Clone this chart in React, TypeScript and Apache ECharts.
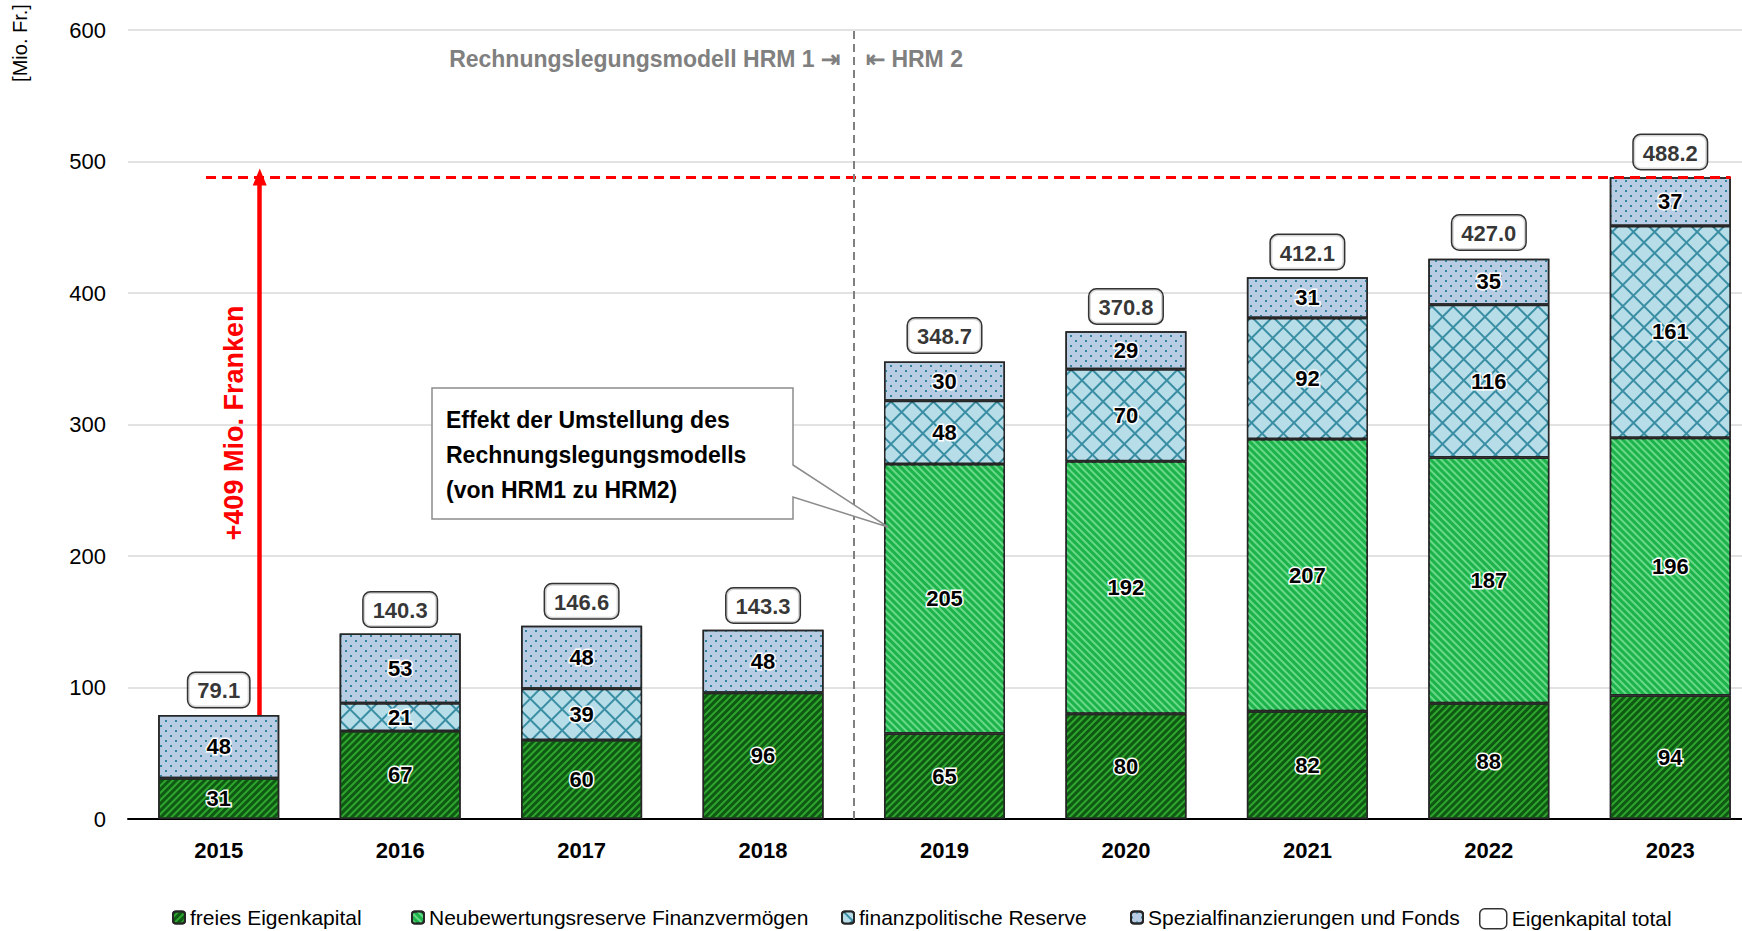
import React, { useEffect, useRef } from "react";
import * as echarts from "echarts";

const years = ["2015", "2016", "2017", "2018", "2019", "2020", "2021", "2022", "2023"];
const freiesEigenkapital = [31, 67, 60, 96, 65, 80, 82, 88, 94];
const neubewertungsreserve = [null, null, null, null, 205, 192, 207, 187, 196];
const finanzpolitischeReserve = [null, 21, 39, null, 48, 70, 92, 116, 161];
const spezialfinanzierungen = [48, 53, 48, 48, 30, 29, 31, 35, 37];
const eigenkapitalTotal = [79.1, 140.3, 146.6, 143.3, 348.7, 370.8, 412.1, 427.0, 488.2];

const seriesNames = [
  "freies Eigenkapital",
  "Neubewertungsreserve Finanzvermögen",
  "finanzpolitische Reserve",
  "Spezialfinanzierungen und Fonds",
];
const totalName = "Eigenkapital total";
const yAxisName = "[Mio. Fr.]";
const hrm1Label = "Rechnungslegungsmodell HRM 1 ⇥";
const hrm2Label = "⇤ HRM 2";
const increaseLabel = "+409 Mio. Franken";
const calloutLines = ["Effekt der Umstellung des", "Rechnungslegungsmodells", "(von HRM1 zu HRM2)"];
const increaseFrom = 79.1;
const increaseTo = 488.2;
const modelSwitchBoundary = 4; // between 2018 and 2019 (band units)

const FONT = "'Liberation Sans Narrow', 'Arial Narrow', 'Liberation Sans', Arial, sans-serif";
const legendLefts = [167, 406, 836, 1125];

export default function App() {
  const ref = useRef<HTMLDivElement>(null);
  useEffect(() => {
    document.body.style.margin = "0";
    const chart = echarts.init(ref.current!, null, { renderer: "svg" });
    const barLabel = {
      show: true,
      position: "inside",
      fontFamily: FONT,
      fontSize: 22,
      fontWeight: "bold",
      color: "#000",
      textBorderColor: "#fff",
      textBorderWidth: 3,
    };
    const border = { borderColor: "#262626", borderWidth: 1.5 };
    const legendText = { fontFamily: FONT, fontSize: 21, color: "#000" };
    const option: any = {
      animation: false,
      textStyle: { fontFamily: FONT },
      grid: { left: 128, top: 30, width: 1633, height: 789, outerBoundsMode: "none", containLabel: false },
      legend: [
        ...seriesNames.map((n, i) => ({
          data: [n],
          left: legendLefts[i],
          top: 902,
          itemWidth: 12,
          itemHeight: 12,
          textStyle: legendText,
          selectedMode: false,
        })),
        {
          data: [
            {
              name: totalName,
              icon: "roundRect",
              itemStyle: { color: "#fff", borderColor: "#000", borderWidth: 1.5 },
            },
          ],
          left: 1474,
          top: 903,
          itemWidth: 27,
          itemHeight: 20,
          textStyle: legendText,
          selectedMode: false,
        },
      ],
      xAxis: [
        {
          type: "category",
          data: years,
          axisLine: { lineStyle: { color: "#000", width: 2 } },
          axisTick: { show: false },
          axisLabel: { fontFamily: FONT, fontSize: 22, fontWeight: "bold", color: "#000", margin: 20 },
        },
        { type: "value", min: 0, max: 9, show: false },
      ],
      yAxis: {
        type: "value",
        min: 0,
        max: 600,
        interval: 100,
        axisLine: { show: false },
        axisTick: { show: false },
        axisLabel: { fontFamily: FONT, fontSize: 22, color: "#000", margin: 22 },
        splitLine: { lineStyle: { color: "#d9d9d9", width: 1.5 } },
      },
      graphic: [
        {
          type: "text",
          x: 20,
          y: 43,
          rotation: Math.PI / 2,
          style: { text: yAxisName, fontFamily: FONT, fontSize: 20, fill: "#000", align: "center", verticalAlign: "middle" },
        },
        {
          type: "text",
          x: 840,
          y: 59,
          style: { text: hrm1Label, fontFamily: FONT, fontSize: 23, fontWeight: "bold", fill: "#808080", align: "right", verticalAlign: "middle" },
        },
        {
          type: "text",
          x: 866,
          y: 59,
          style: { text: hrm2Label, fontFamily: FONT, fontSize: 23, fontWeight: "bold", fill: "#808080", align: "left", verticalAlign: "middle" },
        },
        {
          type: "text",
          x: 234,
          y: 423,
          rotation: Math.PI / 2,
          style: { text: increaseLabel, fontFamily: FONT, fontSize: 27, fontWeight: "bold", fill: "#ff0000", align: "center", verticalAlign: "middle" },
        },
        {
          type: "polygon",
          shape: {
            points: [
              [432, 388], [793, 388], [793, 465], [888, 527], [793, 497], [793, 519], [432, 519],
            ],
          },
          style: { fill: "#fff", stroke: "#8c8c8c", lineWidth: 1.5 },
          z: 10,
        },
        ...calloutLines.map((t, i) => ({
          type: "text",
          x: 446,
          y: 420 + i * 35,
          z: 11,
          style: { text: t, fontFamily: FONT, fontSize: 23, fontWeight: "bold", fill: "#000", align: "left", verticalAlign: "middle" },
        })),
      ],
      series: [
        {
          name: seriesNames[0],
          type: "bar",
          stack: "ek",
          barWidth: "66.7%",
          data: freiesEigenkapital,
          label: barLabel,
          itemStyle: {
            color: "#2fa52f",
            ...border,
            decal: { symbol: "rect", symbolSize: 1, color: "#0e5a12", dashArrayX: [1, 0], dashArrayY: [2.5, 2], rotation: -Math.PI / 4 },
          },
        },
        {
          name: seriesNames[1],
          type: "bar",
          stack: "ek",
          data: neubewertungsreserve,
          label: barLabel,
          itemStyle: {
            color: "#1db34a",
            ...border,
            decal: { symbol: "rect", symbolSize: 1, color: "#68d989", dashArrayX: [1, 0], dashArrayY: [2, 3], rotation: Math.PI / 4 },
          },
        },
        {
          name: seriesNames[2],
          type: "bar",
          stack: "ek",
          data: finanzpolitischeReserve,
          label: barLabel,
          itemStyle: {
            color: "#3a8ea4",
            ...border,
            decal: { symbol: "rect", symbolSize: 1, color: "#b7dde8", dashArrayX: [13, 1.2], dashArrayY: [13, 1.2], rotation: Math.PI / 4 },
          },
        },
        {
          name: seriesNames[3],
          type: "bar",
          stack: "ek",
          data: spezialfinanzierungen,
          label: barLabel,
          itemStyle: {
            color: "#b8cce4",
            ...border,
            decal: { symbol: "rect", symbolSize: 1, color: "#31849b", dashArrayX: [[2, 8], [0, 5, 2, 3]], dashArrayY: [2, 3], rotation: 0 },
          },
        },
        {
          name: totalName,
          type: "scatter",
          data: eigenkapitalTotal,
          symbolSize: 0,
          itemStyle: { color: "#fff", borderColor: "#000", borderWidth: 1.5 },
          z: 5,
          label: {
            show: true,
            position: "top",
            distance: 8,
            formatter: (p: any) => Number(p.value).toFixed(1),
            fontFamily: FONT,
            fontSize: 22,
            fontWeight: "bold",
            color: "#000",
            backgroundColor: "#fff",
            borderColor: "#000",
            borderWidth: 1.5,
            borderRadius: 7,
            padding: [7, 9, 5, 9],
          },
        },
        {
          name: "annotations",
          type: "line",
          xAxisIndex: 1,
          yAxisIndex: 0,
          data: [[0.5, 0]],
          showSymbol: false,
          symbol: "none",
          lineStyle: { opacity: 0 },
          z: 4,
          markLine: {
            silent: true,
            animation: false,
            label: { show: false },
            data: [
              [
                { coord: [0.43, increaseTo], symbol: "none", lineStyle: { color: "#ff0000", width: 3, type: [10, 6] } },
                { coord: [8.833, increaseTo], symbol: "none" },
              ],
              [
                { coord: [0.726, increaseFrom], symbol: "none", lineStyle: { color: "#ff0000", width: 4.5, type: "solid" } },
                { coord: [0.726, increaseTo], symbol: "triangle", symbolSize: [14, 17] },
              ],
              [
                { coord: [modelSwitchBoundary, 0], symbol: "none", lineStyle: { color: "#808080", width: 2, type: [8, 5] } },
                { coord: [modelSwitchBoundary, 600], symbol: "none" },
              ],
            ],
          },
        },
      ],
    };
    chart.setOption(option);
    return () => chart.dispose();
  }, []);
  return <div ref={ref} style={{ width: 1742, height: 931 }} />;
}
